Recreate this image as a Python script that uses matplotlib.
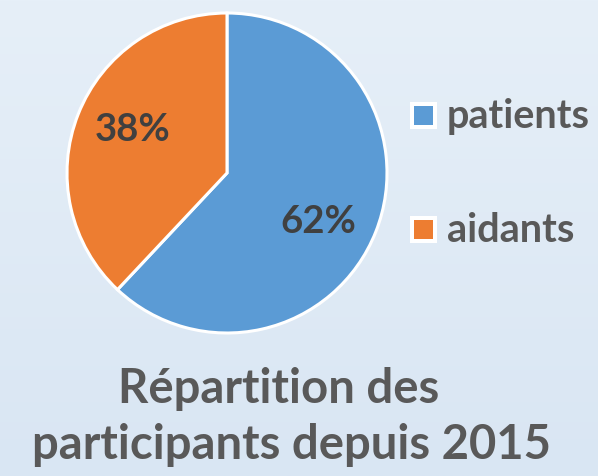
import numpy as np
import matplotlib
matplotlib.use("Agg")
import matplotlib.pyplot as plt
from matplotlib.patches import Rectangle

categories = ["patients", "aidants"]
values = [62, 38]
labels_pct = ["62%", "38%"]
colors = ["#5b9bd5", "#ed7d31"]

W, H = 598, 476
fig = plt.figure(figsize=(W / 100, H / 100), dpi=100)

# background gradient
bg = fig.add_axes([0, 0, 1, 1])
grad = np.linspace(0, 1, 256).reshape(-1, 1)
top = np.array([0xe6, 0xef, 0xf8]) / 255
bot = np.array([0xd9, 0xe6, 0xf3]) / 255
img = top[None, None, :] * (1 - grad[:, :, None]) + bot[None, None, :] * grad[:, :, None]
bg.imshow(img, aspect="auto", extent=[0, 1, 0, 1])
bg.set_axis_off()

# pie axes
cx, cy, r = 227, 173, 160
ax = fig.add_axes([(cx - r) / W, 1 - (cy + r) / H, 2 * r / W, 2 * r / H])
wedges, _ = ax.pie(values, colors=colors, startangle=90, counterclock=False,
                   wedgeprops=dict(edgecolor="white", linewidth=2.2))
ax.set_xlim(-1.0, 1.0)
ax.set_ylim(-1.0, 1.0)
ax.set_aspect("equal")
ax.set_axis_off()

font = "Lato"
def fx(x):
    return x / W
def fy(y):
    return 1 - y / H

fig.text(fx(318), fy(222), labels_pct[0], ha="center", va="center",
         fontsize=27.5, fontweight="bold", color="#404040", family=font)
fig.text(fx(133), fy(130), labels_pct[1], ha="center", va="center",
         fontsize=27.5, fontweight="bold", color="#404040", family=font)

# legend
for cat, col, y in zip(categories, colors, [115.5, 229.5]):
    fig.patches.append(Rectangle((fx(410), fy(y + 13.5)), 27 / W, 27 / H,
                                 transform=fig.transFigure, facecolor="white",
                                 edgecolor="none"))
    fig.patches.append(Rectangle((fx(414), fy(y + 9.5)), 19 / W, 19 / H,
                                 transform=fig.transFigure, facecolor=col,
                                 edgecolor="none"))
    fig.text(fx(447), fy(y + 1), cat, ha="left", va="center", fontsize=28.5,
             fontweight="bold", color="#595959", family=font)

# title
fig.text(fx(279), fy(389), "Répartition des", ha="center", va="center",
         fontsize=34, fontweight="bold", color="#595959", family=font)
fig.text(fx(291), fy(445), "participants depuis 2015", ha="center", va="center",
         fontsize=34, fontweight="bold", color="#595959", family=font)

fig.savefig("out.png", dpi=100)
